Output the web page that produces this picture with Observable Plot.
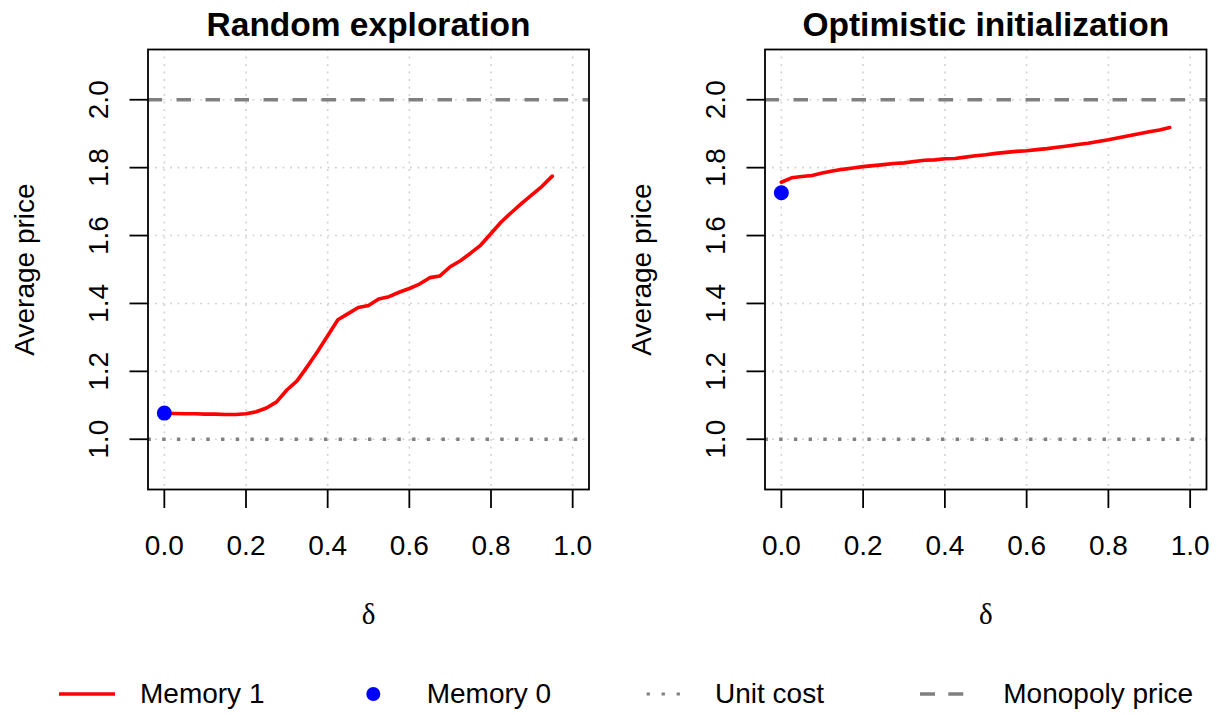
<!DOCTYPE html>
<html>
<head>
<meta charset="utf-8">
<script src="https://cdn.jsdelivr.net/npm/d3@7"></script>
<script src="https://cdn.jsdelivr.net/npm/@observablehq/plot@0.6"></script>
<style>
  body { margin: 0; background: #fff; font-family: "Liberation Sans", Arial, sans-serif; }
  #wrap { position: relative; width: 1217px; height: 715px; overflow: hidden; background: #fff; }
  .panel { position: absolute; top: 0; }
  #legend { position: absolute; left: 0; top: 670px; }
</style>
</head>
<body>
<div id="wrap"></div>
<script>
// ---- data ----
const delta = [0.000, 0.025, 0.050, 0.075, 0.100, 0.125, 0.150, 0.175, 0.200, 0.225,
               0.250, 0.275, 0.300, 0.325, 0.350, 0.375, 0.400, 0.425, 0.450, 0.475,
               0.500, 0.525, 0.550, 0.575, 0.600, 0.625, 0.650, 0.675, 0.700, 0.725,
               0.750, 0.775, 0.800, 0.825, 0.850, 0.875, 0.900, 0.925, 0.950];
const randomPrice = [1.077, 1.076, 1.075, 1.075, 1.074, 1.074, 1.073, 1.073, 1.075, 1.081,
                     1.092, 1.110, 1.145, 1.172, 1.214, 1.258, 1.305, 1.352, 1.370, 1.388,
                     1.394, 1.413, 1.420, 1.433, 1.444, 1.457, 1.476, 1.481, 1.508, 1.526,
                     1.548, 1.572, 1.606, 1.640, 1.668, 1.695, 1.720, 1.745, 1.775];
const optimisticPrice = [1.757, 1.770, 1.774, 1.777, 1.784, 1.790, 1.795, 1.799, 1.803, 1.806,
                         1.809, 1.812, 1.814, 1.818, 1.822, 1.823, 1.826, 1.827, 1.831, 1.835,
                         1.838, 1.842, 1.845, 1.848, 1.850, 1.853, 1.856, 1.860, 1.864, 1.868,
                         1.872, 1.877, 1.882, 1.888, 1.894, 1.900, 1.906, 1.911, 1.918];
const memory0Random = 1.077;
const memory0Optimistic = 1.726;
const unitCost = 1.0;
const monopolyPrice = 2.0;
const xTicks = [0, 0.2, 0.4, 0.6, 0.8, 1.0];
const yTicks = [1.0, 1.2, 1.4, 1.6, 1.8, 2.0];
const panelTitles = ["Random exploration", "Optimistic initialization"];
const legendLabels = ["Memory 1", "Memory 0", "Unit cost", "Monopoly price"];

const RED = "#ff0000", BLUE = "#0000ff", GRAY = "#808080", GRID = "#d3d3d3";
const fmt = d3.format(".1f");

function panel(title, prices, m0, width, marginRight) {
  const data = delta.map((d, i) => ({delta: d, price: prices[i]}));
  return Plot.plot({
    width, height: 640,
    marginLeft: 147.5, marginRight, marginTop: 49, marginBottom: 151,
    x: {domain: [-0.04, 1.04]},
    y: {domain: [0.852, 2.148]},
    style: {fontFamily: "'Liberation Sans', Arial, sans-serif", color: "black", background: "white", overflow: "visible"},
    marks: [
      Plot.gridX(xTicks, {stroke: GRID, strokeOpacity: 1, strokeWidth: 1.6, strokeDasharray: "1.9,5.6"}),
      Plot.gridY(yTicks, {stroke: GRID, strokeOpacity: 1, strokeWidth: 1.6, strokeDasharray: "1.9,5.6"}),
      Plot.ruleY([unitCost], {stroke: GRAY, strokeWidth: 3.4, strokeDasharray: "3.4,11.3"}),
      Plot.ruleY([monopolyPrice], {stroke: GRAY, strokeWidth: 3.6, strokeDasharray: "14.5,14.5"}),
      Plot.line(data, {x: "delta", y: "price", stroke: RED, strokeWidth: 3.6}),
      Plot.dot([{delta: 0, price: m0}], {x: "delta", y: "price", r: 7.5, fill: BLUE, stroke: null}),
      Plot.frame({stroke: "black", strokeWidth: 1.8}),
      Plot.axisX(xTicks, {tickSize: 19, tickPadding: 27, fontSize: 28, tickFormat: fmt, label: null, strokeWidth: 1.8}),
      Plot.axisY(yTicks, {tickSize: 18, tickPadding: 22.5, tickRotate: -90, fontSize: 28, tickFormat: fmt, label: null, strokeWidth: 1.8}),
      Plot.text([title], {frameAnchor: "top", dy: -14, lineAnchor: "bottom", fontSize: 33.5, fontWeight: "bold"}),
      Plot.text(["Average price"], {frameAnchor: "left", dx: -114.5, rotate: -90, textAnchor: "middle", lineAnchor: "bottom", fontSize: 28}),
      Plot.text(["δ"], {frameAnchor: "bottom", dy: 134, lineAnchor: "bottom", fontSize: 29, fontFamily: "'Liberation Serif', serif"})
    ]
  });
}

const wrap = document.getElementById("wrap");
const p1 = panel(panelTitles[0], randomPrice, memory0Random, 617, 28.5);
p1.classList.add("panel"); p1.style.left = "0px";
wrap.appendChild(p1);
const p2 = panel(panelTitles[1], optimisticPrice, memory0Optimistic, 600, 11);
p2.classList.add("panel"); p2.style.left = "617.2px";
wrap.appendChild(p2);

// ---- legend ----
const svg = d3.select(wrap).append("svg")
  .attr("id", "legend").attr("width", 1217).attr("height", 45)
  .style("font-family", "'Liberation Sans', Arial, sans-serif");
const cy = 24, base = 33;
svg.append("line").attr("x1", 59).attr("x2", 115).attr("y1", cy).attr("y2", cy)
  .attr("stroke", RED).attr("stroke-width", 3.6);
svg.append("circle").attr("cx", 373.3).attr("cy", cy).attr("r", 7).attr("fill", BLUE);
svg.append("line").attr("x1", 646.6).attr("x2", 684).attr("y1", cy).attr("y2", cy)
  .attr("stroke", GRAY).attr("stroke-width", 3.2).attr("stroke-dasharray", "3.3,11.7");
svg.append("line").attr("x1", 920).attr("x2", 964).attr("y1", cy).attr("y2", cy)
  .attr("stroke", GRAY).attr("stroke-width", 3.6).attr("stroke-dasharray", "15,13.3");
const textX = [140, 426.7, 715, 1003.3];
legendLabels.forEach((t, i) => {
  svg.append("text").attr("x", textX[i]).attr("y", base).attr("font-size", 28).attr("fill", "black").text(t);
});
</script>
</body>
</html>
